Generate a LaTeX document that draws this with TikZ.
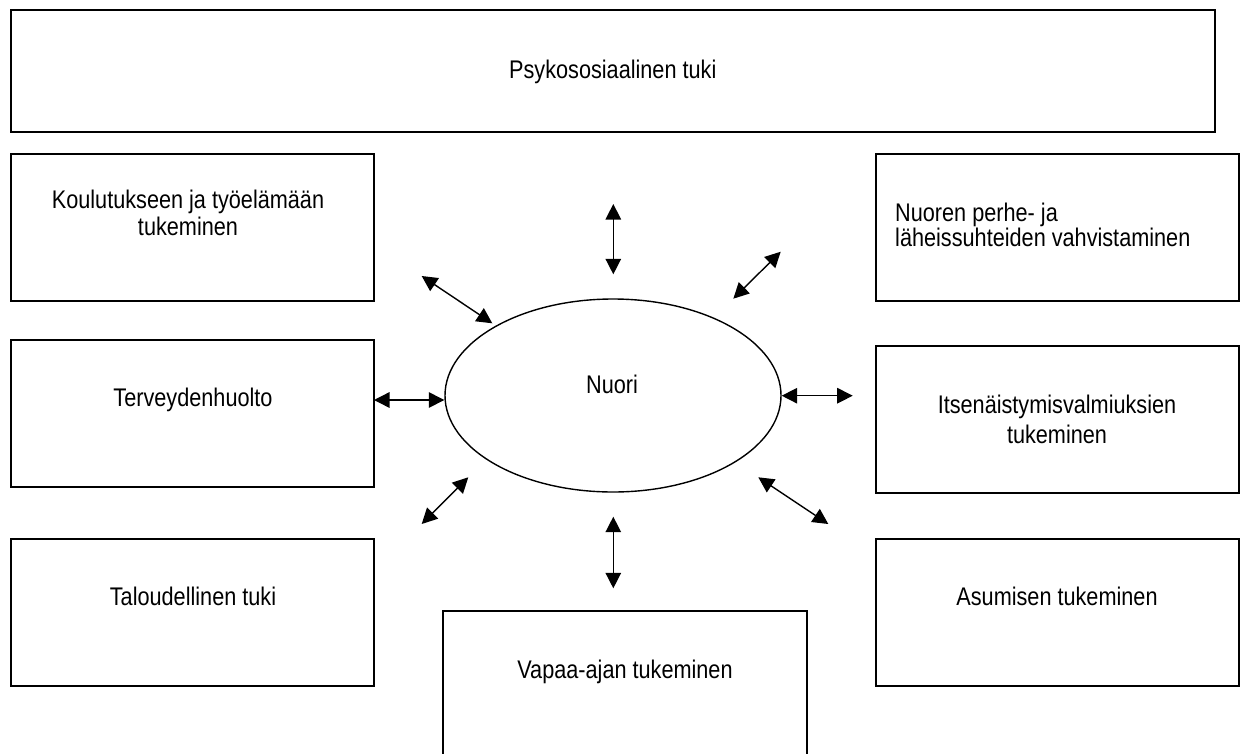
\documentclass[tikz,border=0pt]{standalone}
\usepackage{fontspec}
\setmainfont{Liberation Sans}[FakeStretch=0.85]
\usetikzlibrary{arrows.meta,shapes.geometric}
\begin{document}
\begin{tikzpicture}[x=1pt,y=-1pt,
  box/.style={draw,line width=2pt,rectangle,inner sep=0pt,minimum width=363.5pt,minimum height=147pt},
  lbl/.style={font=\fontsize{25.5}{27}\selectfont,inner sep=0pt,anchor=base},
  arr/.style={line width=1.4pt,{Triangle[length=15.5pt,width=15.5pt]}-{Triangle[length=15.5pt,width=15.5pt]}}]
\useasboundingbox (0,0) rectangle (1244,753);
\clip (0,0) rectangle (1244,753);
% boxes
\node[box,minimum width=1204.5pt,minimum height=122pt] (top) at (612.75,71) {};
\node[box] (koul) at (192.25,227.5) {};
\node[box] (terv) at (192.25,413.3) {};
\node[box] (talo) at (192.25,612.3) {};
\node[box] (perhe) at (1057.5,227) {};
\node[box] (itsen) at (1057.5,419.2) {};
\node[box] (asum) at (1057.5,612.3) {};
\node[box] (vapaa) at (625,684.5) {};
\node[draw,ellipse,line width=1.4pt,minimum width=336pt,minimum height=193pt,inner sep=0pt] (nuori) at (613,395.5) {};
% texts (multi-line nodes are anchored at the baseline of their last line)
\node[lbl] (ttop) at (612.75,78) {Psykososiaalinen tuki};
\node[lbl,align=center] (tkoul) at (188,235) {Koulutukseen ja työelämään\\tukeminen};
\node[lbl] (tterv) at (193,406) {Terveydenhuolto};
\node[lbl] (ttalo) at (193,605) {Taloudellinen tuki};
\node[lbl,anchor=base west,align=left] (tperhe) at (895,246) {Nuoren perhe- ja\\[-2pt]läheissuhteiden vahvistaminen};
\node[lbl,align=center] (titsen) at (1057,443) {Itsenäistymisvalmiuksien\\[3pt]tukeminen};
\node[lbl] (tasum) at (1057,605) {Asumisen tukeminen};
\node[lbl] (tvapaa) at (625,678) {Vapaa-ajan tukeminen};
\node[lbl] (tnuori) at (612,393) {Nuori};
% arrow end points
\coordinate (a1s) at (613.3,204);   \coordinate (a1e) at (613.3,274.3);
\coordinate (a2s) at (421.7,276);   \coordinate (a2e) at (492.3,323.3);
\coordinate (a3s) at (780.7,251.7); \coordinate (a3e) at (733.3,298.7);
\coordinate (a4s) at (374,400);     \coordinate (a4e) at (444.3,400);
\coordinate (a5s) at (781.7,395.7); \coordinate (a5e) at (852.7,395.7);
\coordinate (a6s) at (468.3,477.3); \coordinate (a6e) at (421.7,524);
\coordinate (a7s) at (758.3,477.3); \coordinate (a7e) at (828.3,524);
\coordinate (a8s) at (613.3,516.7); \coordinate (a8e) at (613.3,588.3);
\draw[arr] (a1s) -- (a1e);
\draw[arr] (a2s) -- (a2e);
\draw[arr] (a3s) -- (a3e);
\draw[arr] (a4s) -- (a4e);
\draw[arr] (a5s) -- (a5e);
\draw[arr] (a6s) -- (a6e);
\draw[arr] (a7s) -- (a7e);
\draw[arr] (a8s) -- (a8e);
\end{tikzpicture}
\end{document}
